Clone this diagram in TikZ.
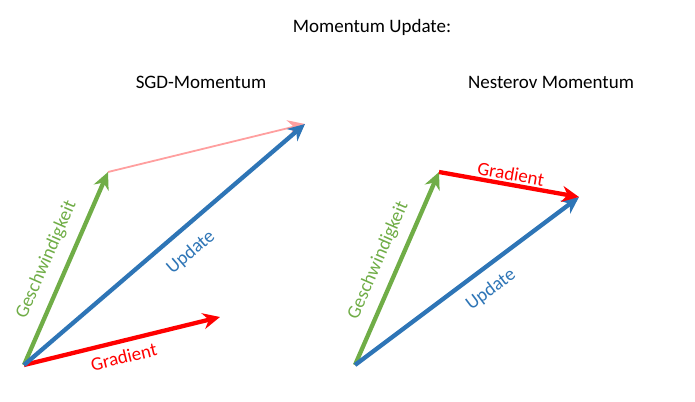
\documentclass[tikz,border=0pt]{standalone}
\usepackage{fontspec}
\setmainfont{Carlito}
\usetikzlibrary{arrows.meta}

\definecolor{vgreen}{HTML}{70AD47}
\definecolor{vblue}{HTML}{2E75B6}
\definecolor{vred}{HTML}{FF0000}
\definecolor{vpink}{HTML}{FF9F9F}

\begin{document}
\begin{tikzpicture}[
    x=1pt, y=-1pt,
    % GLOBAL CFG
    font=\fontsize{19}{22}\selectfont,
    >={Stealth[length=17pt, width=16pt, inset=5.5pt]},
    % Styles
    title/.style={% For the headings
        text=black,
        },
    vec/.style={% For the vectors
        ->,
        line width=4.3pt,
        },
    ghost/.style={% For the faded gradient
        ->,
        line width=1.8pt,
        vpink,
        },
    vlabel/.style={% Labels along the vectors
        sloped,
        inner sep=1pt,
        },
    ]

    \useasboundingbox (0,0) rectangle (695,401);

    % Titles
    \node [title] (main) at (372,27) {Momentum Update:};
    \node [title] (sgd) at (201,82) {SGD-Momentum};
    \node [title] (nag) at (551,82) {Nesterov Momentum};

    % SGD-Momentum points
    \coordinate (o1) at (24,365);
    \coordinate (v1) at (108,172);
    \coordinate (g1) at (220,317);
    \coordinate (u1) at (305,124);

    % Nesterov points
    \coordinate (o2) at (355,365);
    \coordinate (v2) at (439,172);
    \coordinate (u2) at (579,197);

    % SGD-Momentum vectors
    \draw [ghost] (v1) -- (u1);
    \draw [vec, vgreen] (o1) -- node[vlabel, above=10pt, pos=0.5] {Geschwindigkeit} (v1);
    \draw [vec, vred] (o1) -- node[vlabel, below=6pt, pos=0.49] {Gradient} (g1);
    \draw [vec, vblue] (o1) -- node[vlabel, below=12pt, pos=0.54] {Update} (u1);

    % Nesterov vectors
    \draw [vec, vgreen] (o2) -- node[vlabel, above=9pt, pos=0.5] {Geschwindigkeit} (v2);
    \draw [vec, vblue] (o2) -- node[vlabel, below=10pt, pos=0.55] {Update} (u2);
    \draw [vec, vred] (v2) -- node[vlabel, above=1pt, pos=0.5] {Gradient} (u2);

\end{tikzpicture}
\end{document}
